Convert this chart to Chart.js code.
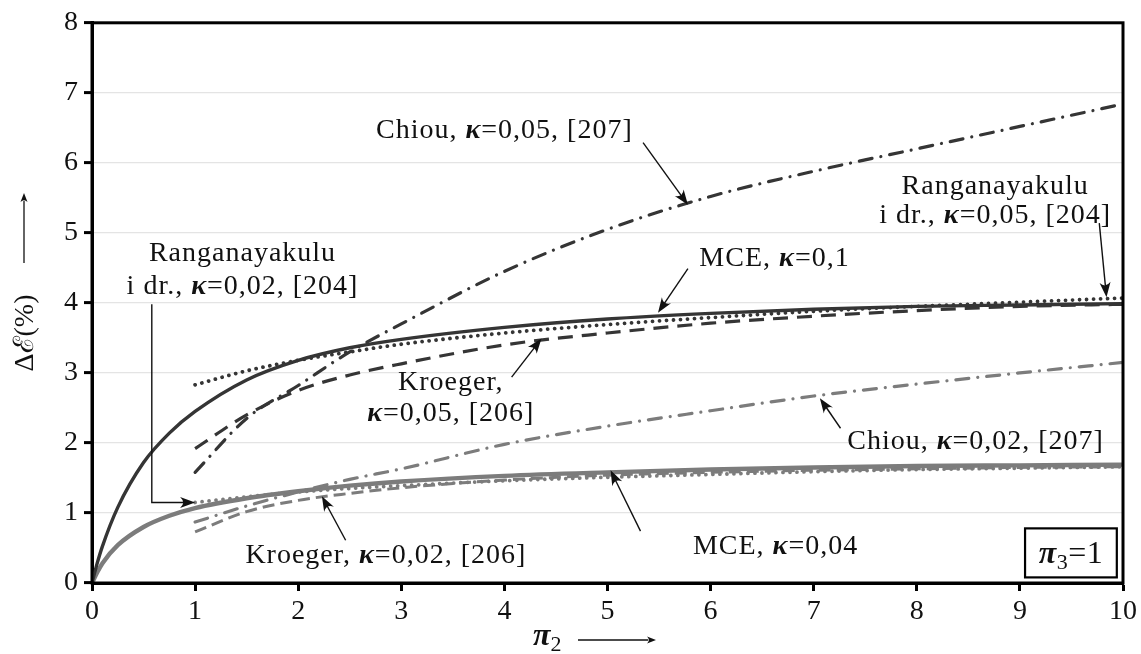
<!DOCTYPE html>
<html><head><meta charset="utf-8">
<script src="https://cdn.jsdelivr.net/npm/chart.js@4.4.1/dist/chart.umd.min.js"></script>
<style>html,body{margin:0;padding:0;background:#fff;}canvas{display:block;}</style>
</head><body>
<canvas id="c" width="1141" height="654"></canvas>
<script>
// ---- data ----
const mceX      = [0, 0.05, 0.1, 0.25, 0.5, 0.75, 1, 1.5, 2, 2.5, 3, 4, 5, 6, 7, 8, 9, 10];
const mce01     = [0, 0.28, 0.52, 1.08, 1.72, 2.14, 2.45, 2.9, 3.18, 3.36, 3.48, 3.65, 3.77, 3.85, 3.91, 3.95, 3.97, 3.99];
const mce004    = [0, 0.15, 0.28, 0.54, 0.8, 0.96, 1.07, 1.21, 1.31, 1.39, 1.45, 1.53, 1.58, 1.62, 1.65, 1.67, 1.68, 1.69];
const refX      = [1, 1.5, 2, 2.5, 3, 4, 5, 6, 7, 8, 9, 10];
const rang005   = [2.83, 3.03, 3.18, 3.3, 3.41, 3.57, 3.69, 3.79, 3.88, 3.95, 4.01, 4.07];
const kro005    = [1.92, 2.4, 2.75, 2.97, 3.13, 3.4, 3.57, 3.71, 3.81, 3.89, 3.95, 3.98];
const chiou005  = [1.58, 2.35, 2.82, 3.3, 3.7, 4.45, 5.05, 5.52, 5.88, 6.2, 6.52, 6.84];
const rang002   = [1.15, 1.23, 1.3, 1.35, 1.39, 1.46, 1.51, 1.55, 1.59, 1.62, 1.64, 1.66];
const kro002    = [0.73, 1.02, 1.18, 1.28, 1.36, 1.47, 1.54, 1.58, 1.61, 1.63, 1.65, 1.66];
const chiou002  = [0.87, 1.1, 1.3, 1.48, 1.63, 1.98, 2.24, 2.46, 2.67, 2.84, 3.0, 3.15];
const xTicks    = [0,1,2,3,4,5,6,7,8,9,10];
const yTicks    = [0,1,2,3,4,5,6,7,8];

const FAM = "'Liberation Serif','DejaVu Serif',serif";
const DARK = '#353535', GRAY = '#7c7c7c';

function pts(xs, ys){ return xs.map((x,i)=>({x:x, y:ys[i]})); }
function ds(label, xs, ys, color, width, dash, cap){
  return {label, data: pts(xs, ys), borderColor: color, borderWidth: width, borderDash: dash || [],
    borderCapStyle: cap || 'butt', pointRadius: 0, fill: false, cubicInterpolationMode: 'monotone'};
}

// annotations in data units
const notes = [
  {lines:[[['Chiou, ','r'],['κ','k'],['=0,05, [207]','r']]], x:4.0, y:[6.36], arrow:[[5.345,6.29],[5.78,5.40]]},
  {lines:[[['Ranganayakulu','r']],[['i dr., ','r'],['κ','k'],['=0,05, [204]','r']]], x:8.76, y:[5.56,5.14], arrow:[[9.77,5.14],[9.84,4.08]]},
  {lines:[[['MCE, ','r'],['κ','k'],['=0,1','r']]], x:6.62, y:[4.53], arrow:[[5.78,4.49],[5.49,3.86]]},
  {lines:[[['Ranganayakulu','r']],[['i dr., ','r'],['κ','k'],['=0,02, [204]','r']]], x:1.46, y:[4.6,4.13], arrow:[[0.58,3.98],[0.58,1.15],[1.0,1.15]]},
  {lines:[[['Kroeger,','r']],[['κ','k'],['=0,05, [206]','r']]], x:3.48, y:[2.75,2.31], arrow:[[4.07,2.94],[4.36,3.49]]},
  {lines:[[['Chiou, ','r'],['κ','k'],['=0,02, [207]','r']]], x:8.57, y:[1.91], arrow:[[7.26,2.21],[7.06,2.64]]},
  {lines:[[['Kroeger, ','r'],['κ','k'],['=0,02, [206]','r']]], x:2.85, y:[0.28], arrow:[[2.46,0.61],[2.23,1.24]]},
  {lines:[[['MCE, ','r'],['κ','k'],['=0,04','r']]], x:6.63, y:[0.42], arrow:[[5.32,0.74],[5.03,1.61]]}
];

function fontFor(k, big){
  const s = big ? 32 : 28;
  if(k==='k') return 'italic bold ' + s + 'px ' + FAM;
  if(k==='s') return Math.round(s*0.68) + 'px ' + FAM;
  return s + 'px ' + FAM;
}
function drawRich(ctx, parts, cx, by, align, big){
  let total = 0;
  const ws = parts.map(p=>{ ctx.font = fontFor(p[1], big); const w = ctx.measureText(p[0]).width; total += w; return w; });
  let x = align==='left' ? cx : cx - total/2;
  parts.forEach((p,i)=>{
    ctx.font = fontFor(p[1], big);
    ctx.fillText(p[0], x, p[1]==='s' ? by+6 : by);
    x += ws[i];
  });
}
function arrowHead(ctx, x0,y0,x1,y1, len, wid){
  const a = Math.atan2(y1-y0, x1-x0);
  ctx.save(); ctx.translate(x1,y1); ctx.rotate(a);
  ctx.beginPath(); ctx.moveTo(0,0); ctx.lineTo(-len, -wid/2); ctx.quadraticCurveTo(-len*0.6,0,-len, wid/2); ctx.closePath();
  ctx.fill(); ctx.restore();
}

const annPlugin = {
  id:'ann',
  afterDatasetsDraw(chart){
    const ctx = chart.ctx, xs = chart.scales.x, ys = chart.scales.y, ca = chart.chartArea;
    ctx.save();
    ctx.lineWidth = 3; ctx.strokeStyle = '#000';
    ctx.strokeRect(ca.left, ca.top, ca.right-ca.left, ca.bottom-ca.top);
    ctx.fillStyle = '#111'; ctx.strokeStyle = '#111'; ctx.textBaseline = 'alphabetic';
    ctx.letterSpacing = '1px';
    notes.forEach(n=>{
      n.lines.forEach((ln,i)=> drawRich(ctx, ln, xs.getPixelForValue(n.x), ys.getPixelForValue(n.y[i])));
      const P = n.arrow.map(p=>[xs.getPixelForValue(p[0]), ys.getPixelForValue(p[1])]);
      ctx.lineWidth = 1.4; ctx.beginPath(); ctx.moveTo(P[0][0],P[0][1]);
      for(let i=1;i<P.length;i++){
        let [x,y] = P[i];
        if(i===P.length-1){ const a=Math.atan2(y-P[i-1][1], x-P[i-1][0]); x -= Math.cos(a)*8; y -= Math.sin(a)*8; }
        ctx.lineTo(x,y);
      }
      ctx.stroke();
      const L = P.length;
      arrowHead(ctx, P[L-2][0],P[L-2][1],P[L-1][0],P[L-1][1], 15, 11);
    });
    // pi3 = 1 box
    const bx0 = xs.getPixelForValue(9.05), bx1 = xs.getPixelForValue(9.94);
    const by0 = ys.getPixelForValue(0.78), by1 = ys.getPixelForValue(0.08);
    ctx.fillStyle = '#fff'; ctx.fillRect(bx0,by0,bx1-bx0,by1-by0);
    ctx.lineWidth = 2.2; ctx.strokeStyle = '#000'; ctx.strokeRect(bx0,by0,bx1-bx0,by1-by0);
    ctx.fillStyle = '#111'; ctx.letterSpacing = '0.5px';
    drawRich(ctx, [['π','k'],['3','s'],['=1','r']], (bx0+bx1)/2, (by0+by1)/2 + 10, 'center', true);
    ctx.restore();

    // axis titles
    ctx.save();
    ctx.fillStyle = '#111'; ctx.strokeStyle = '#111';
    const tx = 533, ty = 645;
    drawRich(ctx, [['π','k'],['2','s']], tx, ty, 'left', true);
    ctx.lineWidth = 1.3; ctx.beginPath(); ctx.moveTo(578, 640); ctx.lineTo(648, 640); ctx.stroke();
    arrowHead(ctx, 578,640,656,640, 9, 7);
    ctx.translate(33, 333); ctx.rotate(-Math.PI/2);
    ctx.font = '28px ' + FAM; ctx.textAlign = 'center';
    ctx.fillText('Δℰ(%)', 0, 0);
    ctx.lineWidth = 1.3; ctx.beginPath(); ctx.moveTo(70, -9); ctx.lineTo(132, -9); ctx.stroke();
    arrowHead(ctx, 70,-9,140,-9, 9, 7);
    ctx.restore();
  }
};

new Chart(document.getElementById('c'), {
  type: 'line',
  data: { datasets: [
    ds('Chiou, κ=0,05, [207]', refX, chiou005, DARK, 3.2, [13, 9, 0.01, 9], 'round'),
    ds('Kroeger, κ=0,05, [206]', refX, kro005, DARK, 3.2, [15, 9]),
    ds('Ranganayakulu i dr., κ=0,05, [204]', refX, rang005, DARK, 3.8, [0.01, 7], 'round'),
    ds('MCE, κ=0,1', mceX, mce01, DARK, 3.4),
    ds('Chiou, κ=0,02, [207]', refX, chiou002, GRAY, 3.2, [13, 9, 0.01, 9], 'round'),
    ds('Kroeger, κ=0,02, [206]', refX, kro002, GRAY, 3.0, [12, 6]),
    ds('Ranganayakulu i dr., κ=0,02, [204]', refX, rang002, GRAY, 3.8, [0.01, 7], 'round'),
    ds('MCE, κ=0,04', mceX, mce004, GRAY, 4.4)
  ]},
  options: {
    responsive: false, devicePixelRatio: 1, animation: false,
    layout: { padding: { top: 22, right: 14, left: 0, bottom: 0 } },
    plugins: { legend: { display: false }, tooltip: { enabled: false } },
    scales: {
      x: { type: 'linear', min: 0, max: 10,
        afterBuildTicks(s){ s.ticks = xTicks.map(v=>({value:v})); },
        ticks: { color: '#111', font: { family: FAM, size: 28 }, padding: 4, maxRotation: 0, autoSkip: false },
        grid: { drawOnChartArea: false, tickColor: '#000', tickLength: 8, tickWidth: 3 },
        border: { color: '#000', width: 3 },
        afterFit(s){ s.height = 71; } },
      y: { type: 'linear', min: 0, max: 8,
        afterBuildTicks(s){ s.ticks = yTicks.map(v=>({value:v})); },
        ticks: { color: '#111', font: { family: FAM, size: 28 }, padding: 6 },
        grid: { color: '#e4e4e4', lineWidth: 1.2, tickColor: '#000', tickLength: 8, tickWidth: 3 },
        border: { color: '#000', width: 3 },
        afterFit(s){ s.width = 92; } }
    }
  },
  plugins: [annPlugin]
});
</script>
</body></html>
